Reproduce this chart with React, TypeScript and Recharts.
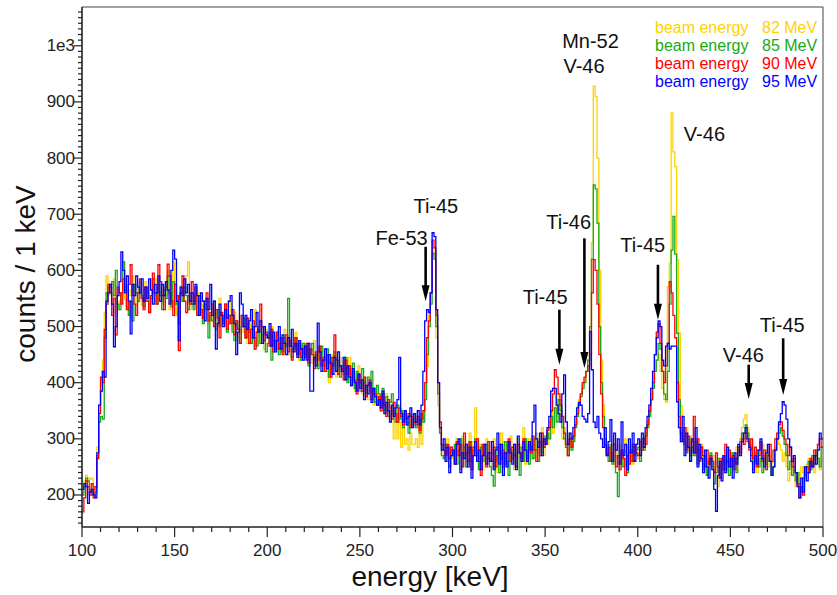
import React from 'react';
import { LineChart, Line, XAxis, YAxis, ReferenceLine, ReferenceDot, Legend, Label } from 'recharts';

// 1 keV bins from 100 to 499 keV
const binEnergies = Array.from({ length: 400 }, (_, i) => 100 + i);

const counts82 = [
  215, 225, 235, 230, 228, 230, 215, 210, 285, 350, 395, 440, 525, 590, 555, 570, 540, 585, 550, 530,
  545, 560, 575, 548, 530, 555, 565, 590, 560, 540, 570, 552, 538, 565, 580, 555, 540, 545, 560, 575,
  585, 548, 562, 540, 570, 555, 600, 530, 545, 615, 560, 520, 548, 572, 545, 560, 590, 615, 530, 545,
  535, 545, 520, 560, 540, 515, 530, 548, 505, 520, 540, 535, 505, 525, 550, 520, 500, 515, 530, 545,
  510, 495, 525, 505, 480, 520, 500, 490, 515, 470, 505, 495, 480, 530, 490, 470, 500, 485, 460, 495,
  485, 470, 500, 460, 480, 490, 455, 470, 480, 495, 465, 450, 480, 470, 455, 490, 475, 440, 460, 470,
  455, 470, 445, 460, 435, 475, 450, 430, 460, 440, 420, 455, 435, 400, 450, 425, 440, 410, 430, 445,
  420, 440, 405, 430, 445, 400, 420, 385, 410, 430, 395, 380, 410, 395, 370, 400, 385, 360, 390, 375,
  380, 355, 370, 345, 380, 360, 335, 350, 300, 340, 300, 330, 285, 320, 290, 300, 280, 310, 290, 290,
  300, 285, 330, 290, 350, 400, 430, 520, 560, 640, 630, 480, 360, 320, 290, 270, 285, 300, 275, 265,
  280, 260, 300, 275, 245, 305, 270, 290, 255, 310, 275, 295, 355, 300, 265, 290, 245, 265, 300, 280,
  265, 250, 300, 260, 240, 285, 310, 270, 250, 290, 260, 305, 280, 245, 275, 300, 265, 290, 320, 255,
  285, 300, 275, 290, 265, 310, 280, 295, 320, 270, 300, 290, 330, 350, 310, 340, 380, 360, 330, 300,
  320, 295, 280, 310, 290, 300, 330, 350, 370, 380, 395, 405, 420, 430, 470, 650, 928, 910, 800, 600,
  440, 360, 320, 290, 280, 270, 300, 255, 280, 265, 290, 250, 275, 300, 260, 285, 270, 255, 290, 275,
  265, 290, 300, 285, 310, 330, 355, 380, 400, 420, 440, 450, 420, 390, 370, 365, 571, 613, 880, 811,
  785, 619, 488, 358, 320, 300, 320, 290, 305, 280, 300, 270, 285, 260, 290, 250, 270, 240, 265, 255,
  245, 270, 230, 215, 250, 265, 240, 280, 255, 260, 240, 275, 260, 285, 270, 300, 320, 335, 343, 320,
  300, 280, 260, 275, 240, 255, 270, 290, 265, 280, 250, 270, 235, 260, 285, 300, 290, 280, 260, 275,
  250, 225, 240, 260, 245, 215, 230, 210, 250, 240, 230, 255, 265, 250, 270, 240, 275, 260, 245, 270,
];

const counts85 = [
  200, 215, 230, 225, 205, 210, 200, 205, 270, 330, 340, 335, 480, 560, 570, 575, 580, 555, 600, 540,
  530, 560, 615, 570, 535, 520, 545, 510, 575, 560, 545, 580, 555, 535, 570, 560, 525, 550, 585, 560,
  540, 575, 555, 530, 565, 550, 590, 560, 535, 580, 540, 555, 505, 560, 545, 570, 555, 530, 560, 540,
  530, 555, 520, 545, 525, 505, 540, 530, 480, 520, 510, 545, 495, 530, 500, 520, 510, 540, 490, 505,
  520, 490, 475, 510, 495, 470, 500, 515, 480, 505, 490, 470, 500, 480, 465, 495, 470, 485, 500, 455,
  470, 490, 440, 475, 460, 485, 450, 470, 455, 480, 465, 550, 470, 445, 460, 480, 450, 465, 440, 470,
  450, 465, 430, 455, 470, 440, 450, 425, 455, 465, 440, 430, 460, 410, 445, 430, 455, 420, 440, 410,
  430, 415, 445, 400, 425, 410, 435, 390, 420, 405, 385, 425, 400, 375, 410, 395, 420, 380, 365, 395,
  380, 360, 390, 350, 375, 340, 365, 380, 345, 330, 360, 335, 350, 320, 345, 330, 310, 340, 325, 345,
  320, 335, 310, 345, 330, 370, 450, 500, 540, 630, 620, 500, 380, 310, 270, 265, 290, 275, 250, 280,
  270, 290, 255, 280, 300, 265, 285, 250, 275, 295, 260, 280, 300, 270, 245, 285, 260, 275, 290, 265,
  250, 235, 216, 260, 285, 240, 275, 250, 295, 260, 235, 280, 265, 290, 250, 275, 235, 285, 260, 300,
  270, 255, 285, 265, 300, 280, 260, 295, 275, 305, 290, 310, 300, 340, 320, 355, 330, 370, 350, 320,
  300, 285, 270, 300, 280, 295, 320, 340, 360, 375, 390, 400, 420, 440, 500, 620, 752, 745, 684, 500,
  400, 340, 300, 275, 260, 290, 255, 270, 240, 197, 260, 280, 250, 265, 240, 275, 260, 290, 270, 280,
  285, 260, 300, 280, 305, 320, 340, 370, 390, 420, 440, 470, 460, 420, 380, 370, 420, 540, 636, 696,
  629, 488, 370, 320, 300, 290, 275, 300, 260, 285, 270, 295, 255, 280, 265, 245, 270, 235, 260, 275,
  250, 220, 240, 265, 230, 255, 270, 245, 260, 235, 275, 250, 265, 240, 280, 295, 310, 300, 325, 310,
  290, 270, 245, 260, 280, 250, 265, 240, 270, 255, 275, 260, 235, 250, 280, 300, 310, 320, 305, 290,
  270, 245, 260, 235, 250, 225, 240, 215, 205, 230, 250, 240, 260, 245, 270, 255, 280, 265, 250, 285,
];

const counts90 = [
  170, 195, 225, 215, 200, 220, 195, 215, 265, 345, 410, 400, 495, 540, 575, 560, 520, 550, 485, 570,
  560, 540, 585, 565, 530, 575, 610, 555, 540, 520, 560, 585, 550, 530, 570, 545, 525, 555, 595, 560,
  540, 610, 580, 555, 530, 570, 611, 590, 545, 520, 575, 555, 457, 560, 590, 545, 525, 555, 540, 580,
  545, 570, 520, 555, 530, 515, 545, 560, 510, 525, 540, 500, 530, 515, 480, 525, 505, 540, 495, 520,
  505, 530, 485, 510, 495, 470, 520, 500, 480, 515, 470, 495, 510, 460, 490, 500, 540, 500, 475, 490,
  480, 465, 495, 455, 475, 490, 460, 480, 450, 470, 485, 455, 475, 440, 465, 480, 450, 470, 445, 460,
  445, 470, 435, 460, 450, 425, 455, 440, 465, 430, 445, 420, 450, 435, 410, 445, 485, 440, 415, 430,
  425, 405, 440, 415, 430, 395, 420, 405, 380, 415, 400, 385, 410, 375, 395, 405, 370, 390, 380, 360,
  375, 350, 380, 360, 340, 370, 355, 335, 365, 345, 330, 355, 340, 325, 350, 335, 345, 320, 340, 330,
  325, 340, 315, 335, 350, 400, 480, 510, 560, 654, 640, 520, 400, 330, 290, 280, 270, 290, 265, 285,
  275, 255, 295, 270, 290, 250, 310, 275, 260, 295, 245, 285, 270, 300, 260, 235, 290, 270, 250, 295,
  275, 260, 285, 250, 270, 290, 265, 280, 255, 275, 300, 260, 285, 270, 250, 290, 275, 265, 300, 280,
  265, 290, 275, 305, 280, 260, 295, 270, 310, 285, 300, 315, 320, 350, 380, 423, 410, 380, 360, 340,
  310, 290, 270, 300, 285, 305, 325, 345, 360, 380, 400, 410, 420, 430, 450, 560, 619, 600, 540, 450,
  380, 320, 290, 270, 285, 260, 275, 290, 250, 270, 245, 280, 265, 235, 270, 255, 280, 260, 290, 275,
  270, 295, 280, 300, 290, 325, 350, 370, 400, 450, 490, 505, 470, 420, 400, 430, 470, 580, 560, 520,
  480, 400, 340, 310, 295, 320, 280, 305, 270, 295, 340, 275, 300, 260, 285, 270, 250, 280, 255, 270,
  260, 240, 275, 250, 230, 265, 245, 290, 260, 280, 250, 270, 245, 265, 285, 275, 300, 290, 310, 295,
  280, 300, 265, 285, 250, 270, 295, 260, 280, 245, 270, 290, 260, 280, 300, 310, 325, 330, 315, 300,
  290, 270, 285, 250, 265, 240, 220, 195, 215, 200, 235, 250, 240, 265, 250, 280, 270, 290, 300, 285,
];

const counts95 = [
  210, 220, 215, 185, 205, 210, 200, 195, 275, 360, 385, 420, 410, 545, 560, 575, 540, 464, 500, 555,
  580, 633, 600, 560, 590, 545, 487, 575, 555, 590, 570, 560, 585, 545, 570, 550, 585, 565, 540, 575,
  560, 590, 545, 575, 555, 580, 565, 540, 600, 636, 620, 545, 475, 570, 555, 585, 560, 575, 545, 560,
  540, 575, 555, 520, 560, 545, 510, 550, 530, 575, 520, 545, 460, 505, 540, 520, 500, 530, 515, 545,
  555, 520, 505, 450, 490, 560, 540, 500, 520, 495, 510, 530, 480, 500, 525, 490, 510, 470, 500, 485,
  480, 505, 465, 490, 455, 475, 500, 460, 485, 470, 450, 480, 465, 495, 455, 470, 445, 475, 460, 440,
  465, 440, 470, 385, 385, 445, 430, 506, 455, 420, 440, 460, 425, 450, 435, 415, 445, 420, 455, 430,
  420, 445, 405, 430, 410, 395, 425, 400, 385, 415, 390, 405, 370, 395, 380, 400, 365, 390, 375, 360,
  370, 355, 385, 345, 365, 350, 330, 360, 340, 355, 370, 445, 345, 330, 350, 325, 340, 355, 320, 345,
  330, 350, 325, 360, 420, 510, 530, 525, 560, 667, 660, 530, 400, 320, 280, 300, 260, 285, 240, 270,
  280, 255, 290, 300, 240, 275, 265, 290, 250, 285, 230, 270, 295, 260, 280, 245, 270, 290, 255, 275,
  260, 295, 245, 280, 310, 255, 290, 235, 275, 250, 295, 275, 255, 290, 245, 305, 275, 260, 295, 280,
  260, 295, 280, 330, 360, 300, 285, 310, 270, 300, 290, 320, 340, 385, 390, 390, 360, 345, 330, 380,
  414, 330, 290, 310, 300, 320, 340, 355, 365, 360, 340, 335, 330, 345, 491, 423, 330, 320, 340, 310,
  300, 285, 320, 270, 295, 334, 260, 310, 280, 300, 255, 330, 270, 290, 245, 300, 275, 310, 260, 290,
  300, 270, 310, 285, 320, 340, 360, 390, 420, 450, 480, 510, 500, 440, 430, 465, 470, 460, 465, 465,
  465, 366, 320, 295, 340, 270, 310, 285, 260, 300, 275, 320, 250, 290, 265, 240, 280, 250, 230, 265,
  245, 210, 171, 235, 260, 225, 270, 240, 285, 250, 265, 230, 275, 255, 290, 270, 295, 310, 320, 300,
  285, 260, 240, 270, 255, 280, 300, 265, 250, 275, 290, 260, 235, 250, 280, 300, 330, 345, 366, 360,
  335, 300, 285, 260, 270, 240, 215, 195, 230, 205, 250, 225, 240, 260, 250, 270, 255, 280, 310, 300,
];

const beamEnergies = [82, 85, 90, 95];
const seriesKeys = ['b82', 'b85', 'b90', 'b95'];
const seriesColors = ['#FFD200', '#16AA16', '#FF0000', '#0000FF'];

const xMajorTicks = [100, 150, 200, 250, 300, 350, 400, 450, 500];
const yMajorTicks = [200, 300, 400, 500, 600, 700, 800, 900, 1000];
const xAllTicks = Array.from({ length: 41 }, (_, i) => 100 + i * 10);
const yAllTicks = Array.from({ length: 92 }, (_, i) => 150 + i * 10);

// annotation arrows: energy, top and tip in counts
const arrowEnergy = [285.5, 357.7, 371.2, 410.9, 459.9, 478.5];
const arrowTop = [642, 530, 657, 610, 432, 479];
const arrowTip = [545, 432, 426, 512, 371, 378];

const peakLabels = [
  { text: 'Ti-45', e: 291, c: 715 },
  { text: 'Fe-53', e: 272.5, c: 657 },
  { text: 'Ti-45', e: 350, c: 552 },
  { text: 'Ti-46', e: 362.7, c: 687 },
  { text: 'Mn-52', e: 374.5, c: 1009 },
  { text: 'V-46', e: 371, c: 964 },
  { text: 'Ti-45', e: 402.7, c: 645 },
  { text: 'V-46', e: 436, c: 843 },
  { text: 'V-46', e: 457, c: 450 },
  { text: 'Ti-45', e: 478, c: 503 },
];

const FONT = '"Liberation Sans", Arial, sans-serif';
const Y_MIN = 143;
const Y_MAX = 1069;

const data = binEnergies.map((e, i) => ({
  e,
  b82: counts82[i],
  b85: counts85[i],
  b90: counts90[i],
  b95: counts95[i],
}));
// closing edge of the last bin
data.push({ e: 500, b82: counts82[399], b85: counts85[399], b90: counts90[399], b95: counts95[399] });

const XTick = ({ x, y, payload }: any) => {
  const major = xMajorTicks.includes(payload.value);
  return (
    <g>
      <line x1={x} y1={y} x2={x} y2={y + (major ? 10 : 5)} stroke="#222" strokeWidth={1.2} />
      {major && (
        <text x={x} y={y + 29} textAnchor="middle" fontSize={17} fontFamily={FONT} fill="#222">
          {payload.value}
        </text>
      )}
    </g>
  );
};

const YTick = ({ x, y, payload }: any) => {
  const major = yMajorTicks.includes(payload.value);
  return (
    <g>
      <line x1={x} y1={y} x2={x - (major ? 8 : 4)} y2={y} stroke="#222" strokeWidth={1.2} />
      {major && (
        <text x={x - 7} y={y} textAnchor="end" dominantBaseline="central" fontSize={17} fontFamily={FONT} fill="#222">
          {payload.value === 1000 ? '1e3' : payload.value}
        </text>
      )}
    </g>
  );
};

const Arrow = (p: any) => (
  <g>
    <line x1={p.x1} y1={p.y1} x2={p.x2} y2={p.y2 - 12} stroke="#000" strokeWidth={2.6} />
    <polygon points={`${p.x2 - 4},${p.y2 - 16} ${p.x2 + 4},${p.y2 - 16} ${p.x2},${p.y2}`} fill="#000" />
  </g>
);

const BeamLegend = () => (
  <div style={{ fontFamily: FONT, fontSize: 16, lineHeight: '18px' }}>
    {beamEnergies.map((b, i) => (
      <div key={b} style={{ color: seriesColors[i], whiteSpace: 'nowrap', height: 18 }}>
        <span style={{ display: 'inline-block', width: 107 }}>beam energy</span>
        <span style={{ display: 'inline-block' }}>{b} MeV</span>
      </div>
    ))}
  </div>
);

export default function App() {
  return (
    <div style={{ position: 'absolute', left: 0, top: 0, width: 837, height: 595, background: '#fff' }}>
      <LineChart width={837} height={595} data={data} margin={{ top: 7, right: 14, bottom: 0, left: 0 }}>
        <XAxis
          dataKey="e"
          type="number"
          domain={[100, 500]}
          ticks={xAllTicks}
          interval={0}
          tickSize={0}
          tickMargin={0}
          tickLine={false}
          tick={<XTick />}
          height={68}
          axisLine={{ stroke: '#222', strokeWidth: 1.6 }}
          allowDataOverflow
        >
          <Label
            content={({ viewBox }: any) => (
              <text x={viewBox.x + 348} y={viewBox.y + 59} textAnchor="middle" fontSize={28} fontFamily={FONT} fill="#111">
                energy [keV]
              </text>
            )}
          />
        </XAxis>
        <YAxis
          type="number"
          domain={[Y_MIN, Y_MAX]}
          ticks={yAllTicks}
          interval={0}
          tickSize={0}
          tickMargin={0}
          tickLine={false}
          tick={<YTick />}
          width={82}
          axisLine={{ stroke: '#222', strokeWidth: 1.6 }}
          allowDataOverflow
        >
          <Label
            content={({ viewBox }: any) => {
              const cx = viewBox.x + 35;
              const cy = viewBox.y + 267;
              return (
                <text x={cx} y={cy} transform={`rotate(-90, ${cx}, ${cy})`} textAnchor="middle" fontSize={28} fontFamily={FONT} fill="#111">
                  counts / 1 keV
                </text>
              );
            }}
          />
        </YAxis>
        <ReferenceLine y={Y_MAX} stroke="#444" strokeWidth={1} />
        <ReferenceLine x={500} stroke="#444" strokeWidth={1} />
        {seriesKeys.map((k, i) => (
          <Line
            key={k}
            dataKey={k}
            type="stepAfter"
            stroke={seriesColors[i]}
            strokeWidth={1.3}
            dot={false}
            activeDot={false}
            isAnimationActive={false}
          />
        ))}
        {arrowEnergy.map((e, i) => (
          <ReferenceLine
            key={`arrow-${i}`}
            segment={[{ x: e, y: arrowTop[i] }, { x: e, y: arrowTip[i] }]}
            shape={Arrow}
          />
        ))}
        {peakLabels.map((l, i) => (
          <ReferenceDot
            key={`lbl-${i}`}
            x={l.e}
            y={l.c}
            r={0}
            shape={(p: any) => (
              <text x={p.cx} y={p.cy} textAnchor="middle" dominantBaseline="central" fontSize={20} fontFamily={FONT} fill="#111">
                {l.text}
              </text>
            )}
          />
        ))}
        <Legend
          layout="horizontal"
          verticalAlign="middle"
          align="center"
          content={<BeamLegend />}
          wrapperStyle={{ position: 'absolute', left: 655, top: 19, width: 175, height: 74 }}
        />
      </LineChart>
    </div>
  );
}
